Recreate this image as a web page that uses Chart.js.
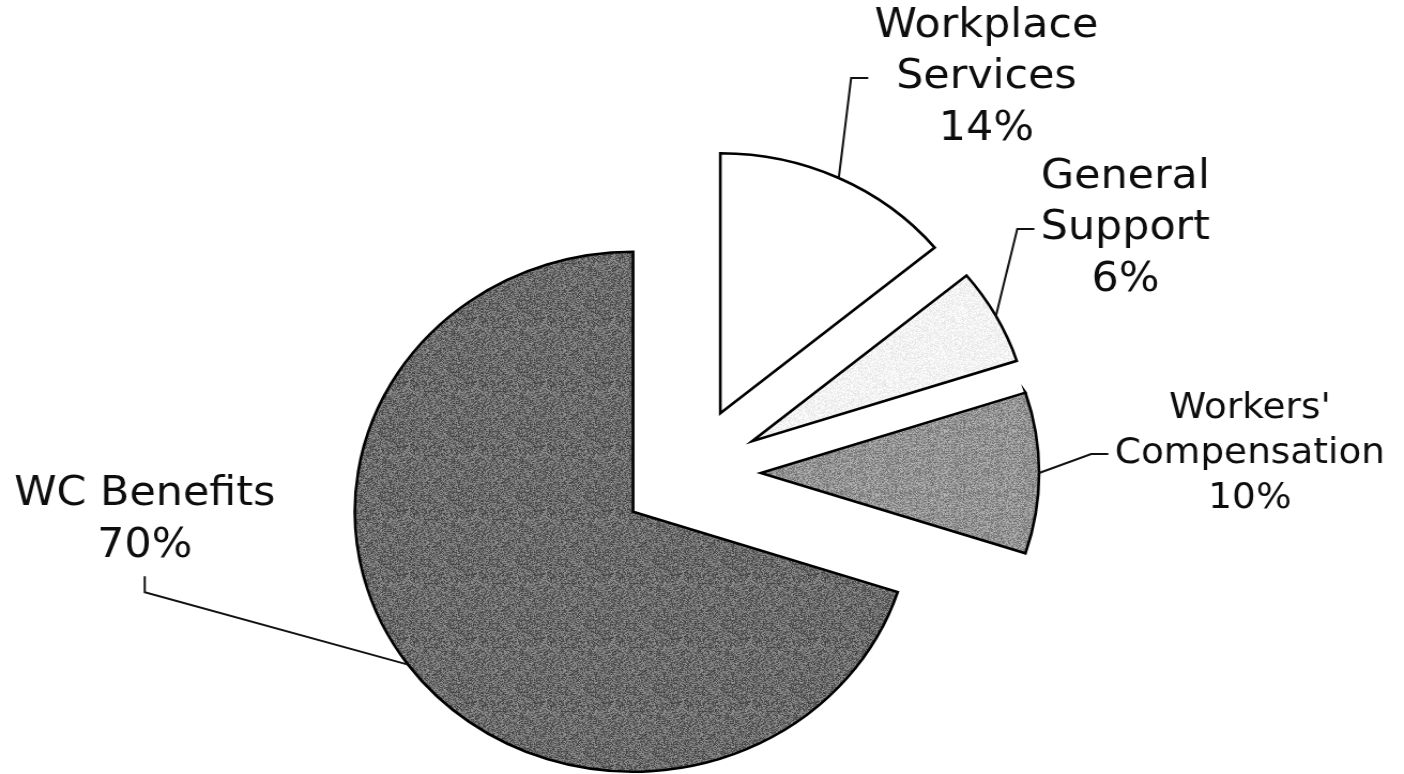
<!DOCTYPE html>
<html>
<head>
<meta charset="utf-8">
<title>Budget by Program</title>
<script src="https://cdn.jsdelivr.net/npm/chart.js@4.4.1/dist/chart.umd.min.js"></script>
<style>
    html, body { margin: 0; padding: 0; background: #fff; overflow: hidden; }
    /* the scanned original is a little wider than it is tall */
    #wrap { position: absolute; left: 0; top: 0; width: 1312px; height: 774px;
            transform: scaleX(1.0701); transform-origin: 0 0; }
</style>
</head>
<body>
<div id="wrap"><canvas id="pieChart"></canvas></div>
<script>
// Slices, clockwise from 12 o'clock
const categories = [["Workplace", "Services"], ["General", "Support"], ["Workers'", "Compensation"], ["WC Benefits"]];
const shares = [14, 6, 10, 70];

// Label styling (centre of text block relative to the slice rim at mid-angle)
const labelOffsets = [[138, -100], [121, -87], [197, -19], [-246, -144]];
const labelFontSizes = [40, 40, 35, 40];
const leaderSides = ["left", "left", "left", "bottom"];
const explodeDistance = 66;

// Grainy grey fill like the printed original
function grainPattern(base, spread, seed) {
    const c = document.createElement("canvas");
    c.width = 64;
    c.height = 64;
    const g = c.getContext("2d");
    const img = g.createImageData(64, 64);
    let s = seed;
    for (let i = 0; i < img.data.length; i += 4) {
        s = (Math.imul(s, 1103515245) + 12345) & 0x7fffffff;
        const v = Math.max(0, Math.min(255, base + ((s >> 8) % (2 * spread + 1)) - spread));
        img.data[i] = img.data[i + 1] = img.data[i + 2] = v;
        img.data[i + 3] = 255;
    }
    g.putImageData(img, 0, 0);
    return g.createPattern(c, "repeat");
}

// Pull every slice out from the centre along its mid-angle
const explode = {
    id: "explode",
    beforeDatasetsDraw(chart) {
        const area = chart.chartArea;
        const meta = chart.getDatasetMeta(0);
        const cx = (area.left + area.right) / 2 + (meta.controller.offsetX || 0);
        const cy = (area.top + area.bottom) / 2 + (meta.controller.offsetY || 0);
        meta.data.forEach(function (arc) {
            const mid = (arc.startAngle + arc.endAngle) / 2;
            arc.x = cx + Math.cos(mid) * explodeDistance;
            arc.y = cy + Math.sin(mid) * explodeDistance;
        });
    }
};

// Category + percent labels with elbow leader lines
const sliceLabels = {
    id: "sliceLabels",
    afterDatasetsDraw(chart) {
        const ctx = chart.ctx;
        const arcs = chart.getDatasetMeta(0).data;
        const total = shares.reduce(function (a, b) { return a + b; }, 0);

        ctx.save();
        arcs.forEach(function (arc, i) {
            const mid = (arc.startAngle + arc.endAngle) / 2;
            const rimX = arc.x + Math.cos(mid) * arc.outerRadius;
            const rimY = arc.y + Math.sin(mid) * arc.outerRadius;
            const lines = categories[i].concat([Math.round(shares[i] / total * 100) + "%"]);
            const size = labelFontSizes[i];
            const lineH = size * 1.28;
            const cx = rimX + labelOffsets[i][0];
            const cy = rimY + labelOffsets[i][1];

            ctx.font = size + "px 'DejaVu Sans', Verdana, sans-serif";
            ctx.fillStyle = "#0d0d0d";
            ctx.textAlign = "center";
            ctx.textBaseline = "middle";
            let maxW = 0;
            lines.forEach(function (t, k) {
                ctx.fillText(t, cx, cy + (k - (lines.length - 1) / 2) * lineH);
                maxW = Math.max(maxW, ctx.measureText(t).width);
            });

            let endX, endY, bendX, bendY;
            if (leaderSides[i] === "left") {
                endX = cx - maxW / 2 - 6;
                endY = cy;
                bendX = endX - 16;
                bendY = endY;
            } else {
                endX = cx;
                endY = cy + (lines.length - 1) / 2 * lineH + size * 0.75;
                bendX = endX;
                bendY = endY + 16;
            }
            ctx.beginPath();
            ctx.moveTo(rimX, rimY);
            ctx.lineTo(bendX, bendY);
            ctx.lineTo(endX, endY);
            ctx.lineWidth = 2;
            ctx.strokeStyle = "#111";
            ctx.lineJoin = "miter";
            ctx.stroke();
        });
        ctx.restore();
    }
};

function loadPieChart() {
    const ctx = document.getElementById("pieChart");
    if (!ctx) return;

    new Chart(ctx, {
        type: "pie",
        data: {
            labels: categories,
            datasets: [{
                data: shares,
                backgroundColor: [
                    "#ffffff",
                    grainPattern(243, 14, 7),
                    grainPattern(146, 38, 11),
                    grainPattern(106, 44, 3)
                ],
                borderColor: "#000",
                borderWidth: 2.6,
                borderJoinStyle: "miter",
                radius: 260
            }]
        },
        options: {
            responsive: true,
            maintainAspectRatio: false,
            animation: false,
            events: [],
            layout: { padding: { top: 172, right: 22, left: 0, bottom: 0 } },
            plugins: {
                legend: { display: false },
                tooltip: { enabled: false }
            }
        },
        plugins: [explode, sliceLabels]
    });
}

loadPieChart();
</script>
</body>
</html>
